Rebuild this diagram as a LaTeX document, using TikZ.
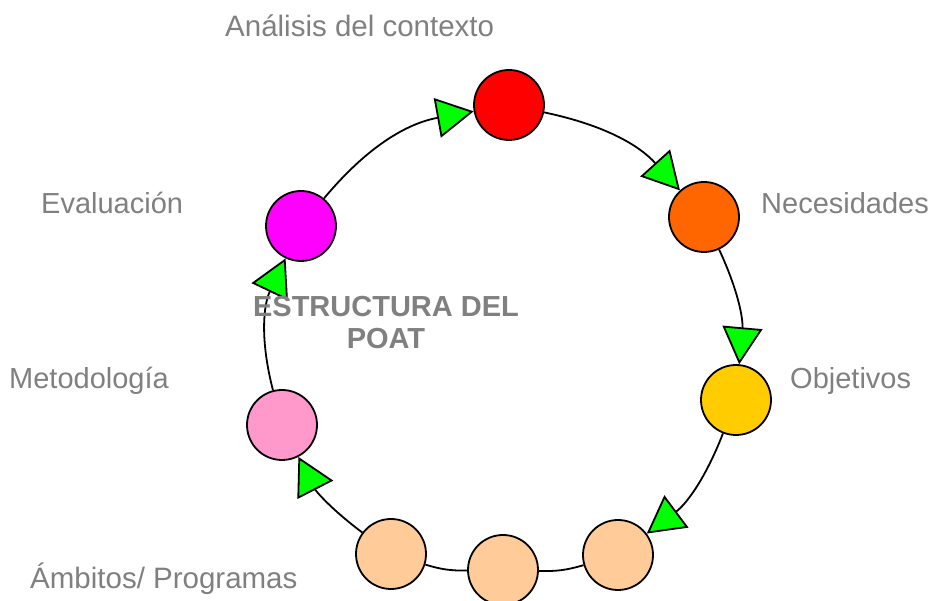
\documentclass[tikz,border=0pt]{standalone}
\usepackage{fontspec}
\setmainfont{Liberation Sans}
\usetikzlibrary{arrows.meta}

\definecolor{rojo}{HTML}{FF0000}
\definecolor{naranja}{HTML}{FF6600}
\definecolor{amarillo}{HTML}{FFCC00}
\definecolor{melocoton}{HTML}{FFCC99}
\definecolor{rosa}{HTML}{FF99CC}
\definecolor{magenta}{HTML}{FF00FF}
\definecolor{flecha}{HTML}{00FF00}
\definecolor{texto}{HTML}{808080}

\begin{document}
\begin{tikzpicture}[x=1pt,y=1pt,
  etapa/.style={circle,draw=black,line width=1.8pt,minimum size=70pt,inner sep=0pt},
  ciclo/.style={line width=1.8pt},
  flechaciclo/.style={ciclo,-{Triangle[length=37pt,width=40pt,fill=flecha,line width=1.8pt]}},
  rotulo/.style={anchor=base west,text=texto,font=\fontsize{29}{32}\selectfont,inner sep=0pt}]
  \useasboundingbox (0,0) rectangle (931,601);

  % etapas
  \node[etapa,fill=rojo] (analisis) at (509,496) {};
  \node[etapa,fill=naranja] (necesidades) at (704,384) {};
  \node[etapa,fill=amarillo] (objetivos) at (736,201) {};
  \node[etapa,fill=melocoton] (ambitosA) at (618,46) {};
  \node[etapa,fill=melocoton] (ambitosB) at (503,31) {};
  \node[etapa,fill=melocoton] (ambitosC) at (391,47) {};
  \node[etapa,fill=rosa] (metodologia) at (282,176) {};
  \node[etapa,fill=magenta] (evaluacion) at (301,375) {};

  % ciclo
  \draw[flechaciclo] (analisis) to[bend left=18] (necesidades);
  \draw[flechaciclo] (necesidades) to[bend left=15] (objetivos);
  \draw[flechaciclo] (objetivos) to[bend left=16] (ambitosA);
  \draw[ciclo] (ambitosA) to[bend left=9] (ambitosB);
  \draw[ciclo] (ambitosB) to[bend left=9] (ambitosC);
  \draw[flechaciclo] (ambitosC) to[bend left=13] (metodologia);
  \draw[flechaciclo] (metodologia) to[bend left=20] (evaluacion);
  \draw[flechaciclo] (evaluacion) to[bend left=20] (analisis);

  % rotulos
  \node[rotulo,font=\fontsize{29.5}{32}\selectfont] (tAnalisis) at (225,564) {Análisis del contexto};
  \node[rotulo] (tNecesidades) at (761,387) {Necesidades};
  \node[rotulo] (tEvaluacion) at (41,387) {Evaluación};
  \node[rotulo] (tObjetivos) at (790,212) {Objetivos};
  \node[rotulo] (tMetodologia) at (9,212) {Metodología};
  \node[rotulo,font=\fontsize{29.5}{32}\selectfont] (tAmbitos) at (30,12) {Ámbitos/ Programas};

  \node[text=texto,font=\fontsize{29}{32}\selectfont\bfseries,align=center] (titulo) at (386,278) {ESTRUCTURA DEL\\POAT};
\end{tikzpicture}
\end{document}
